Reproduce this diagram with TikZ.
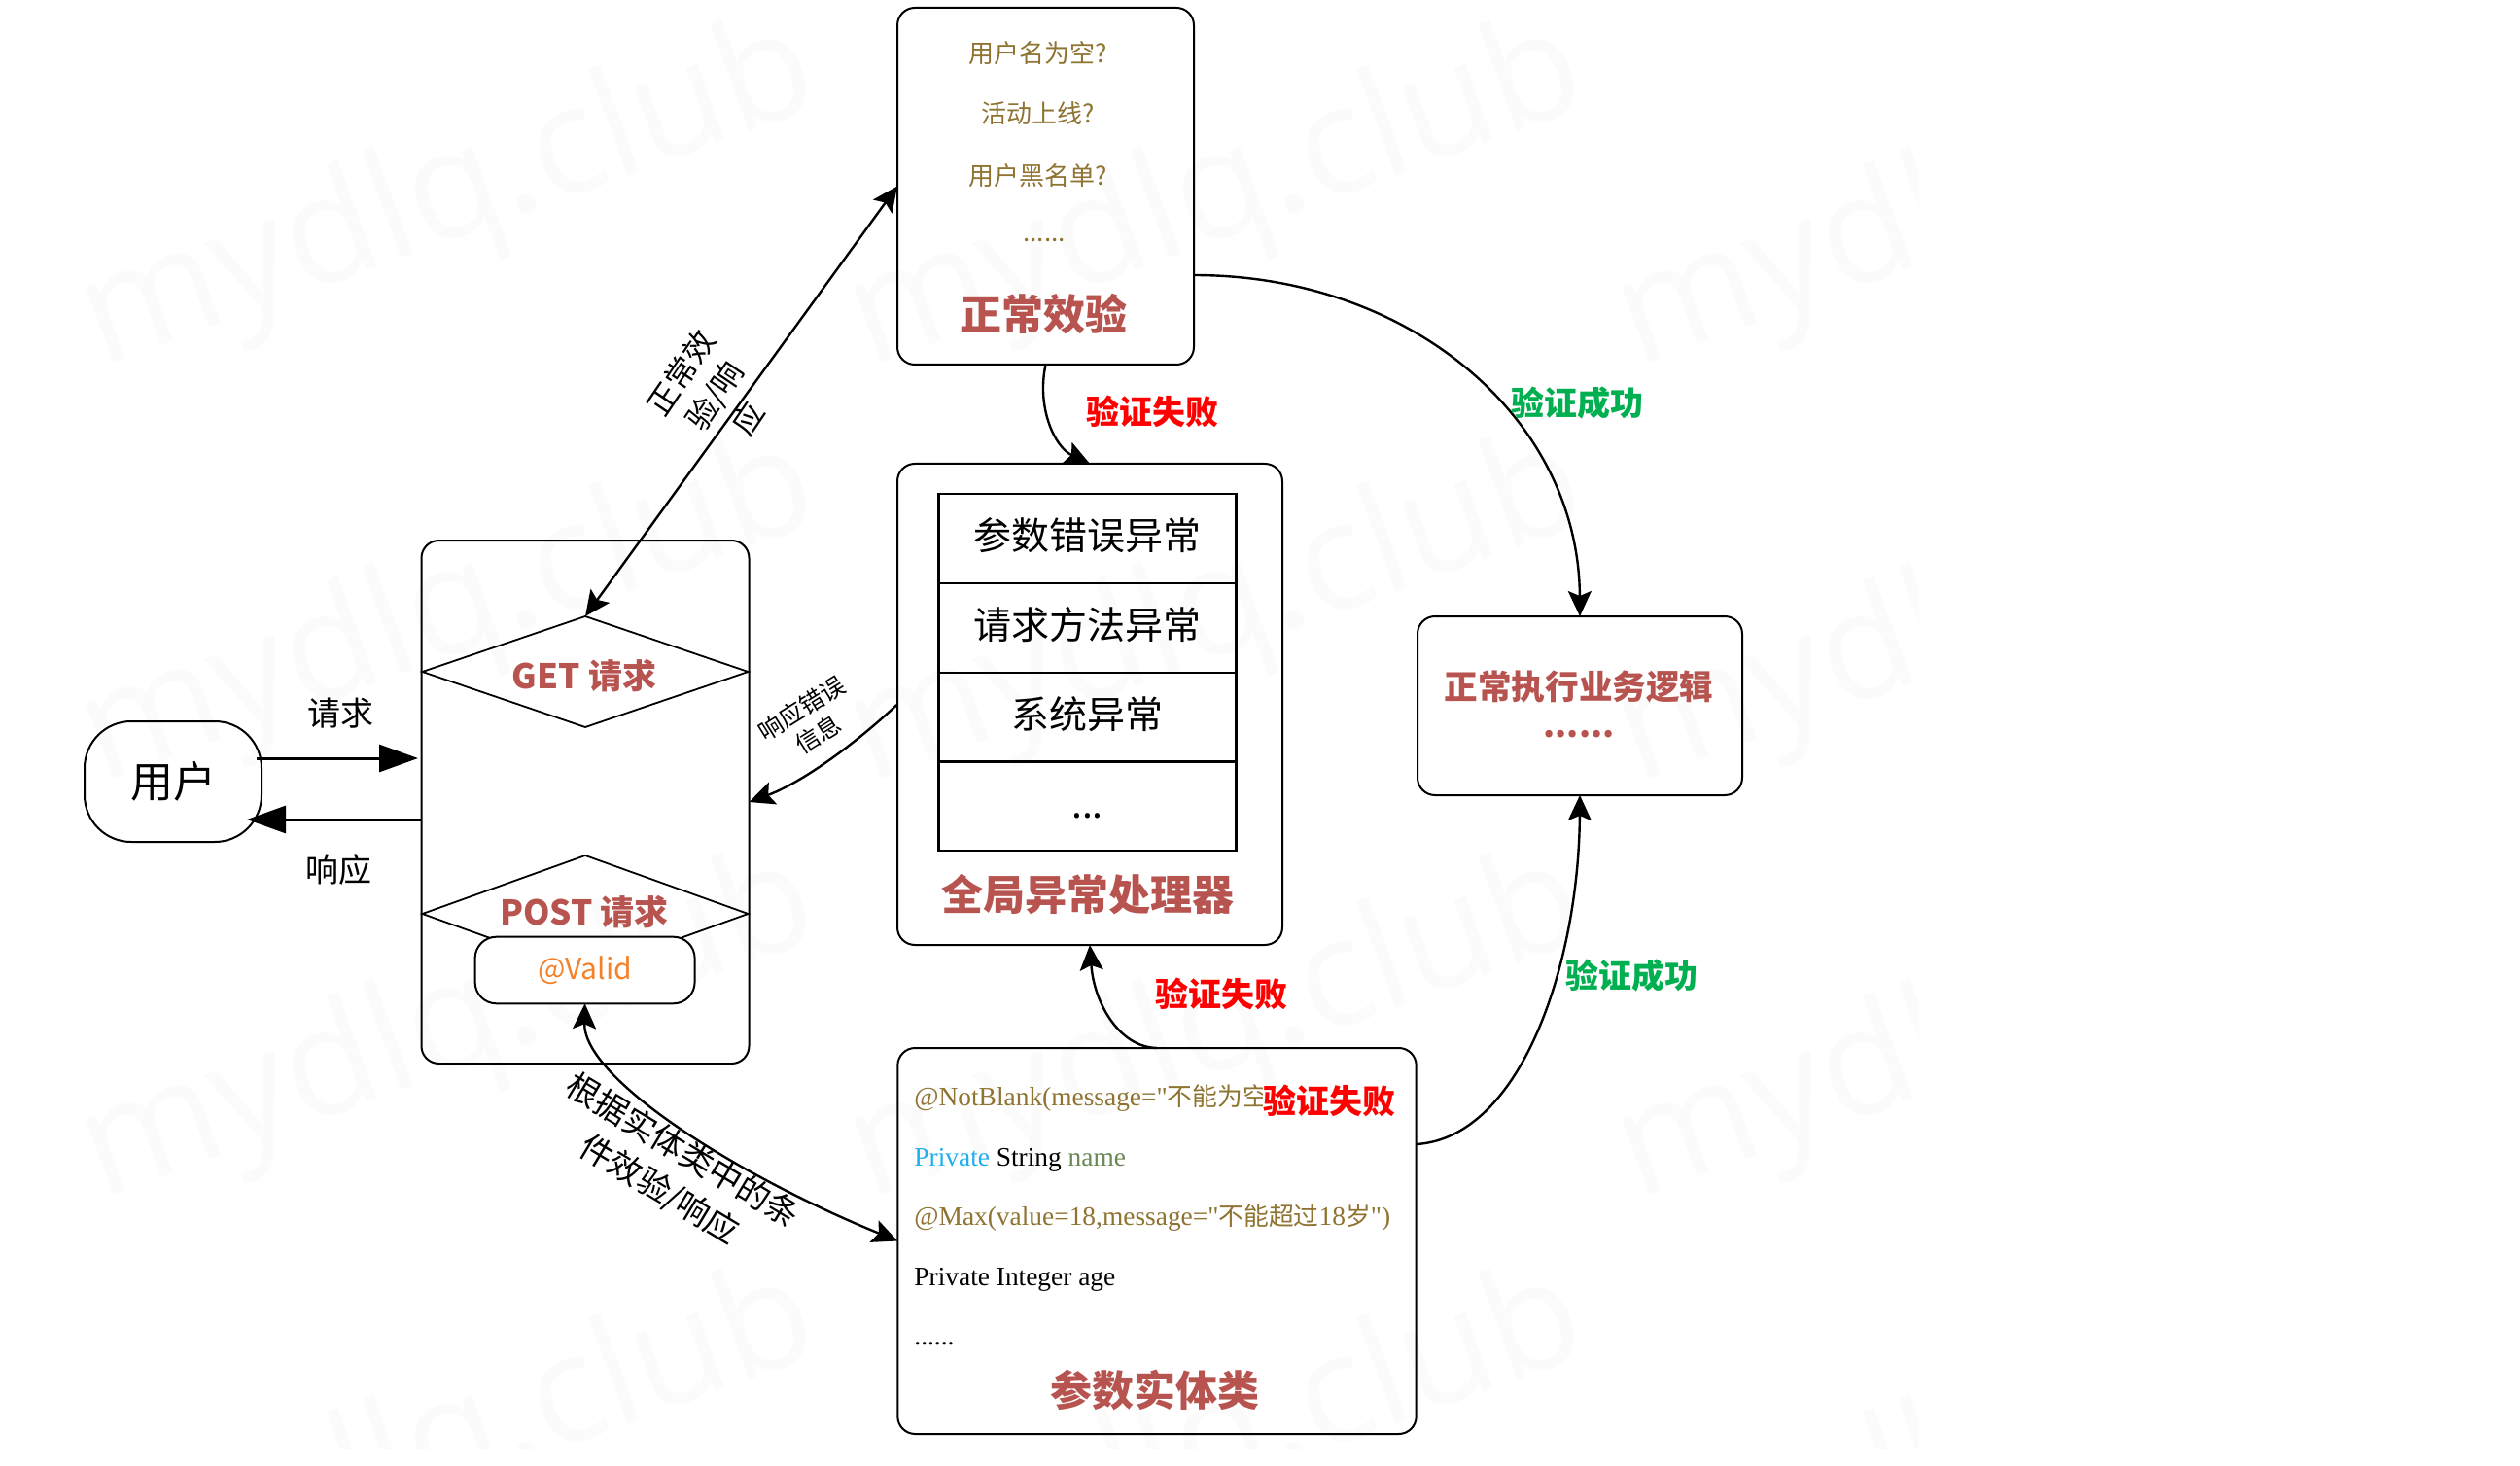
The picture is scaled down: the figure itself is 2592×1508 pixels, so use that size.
\documentclass[tikz,border=0pt]{standalone}
\usepackage{fontspec}
\usepackage[usenames]{xcolor}
\usetikzlibrary{arrows.meta,positioning,shapes.geometric}
\setmainfont{Noto Sans CJK SC}
\newfontfamily\codefont{Liberation Serif}
\newfontfamily\markfont{Open Sans}
\newcommand\cellstrut{\rule[-6pt]{0pt}{23.6pt}}
\newcommand\codecjk{\fontsize{12.9}{16}\selectfont\normalfont}

\begin{document}
\begin{tikzpicture}[x=0.5pt,y=-0.5pt,
  roundbox/.style={draw=black,line width=1pt,rectangle,rounded corners=9pt,inner sep=0pt,outer sep=0pt},
  decision/.style={draw=black,line width=0.9pt,diamond,shape aspect=2.95,inner sep=0pt,outer sep=0pt},
  decisiontext/.style={text=titleColor,inner sep=0pt,font=\fontsize{17.5}{20}\selectfont\bfseries},
  cell/.style={draw=black,line width=1.1pt,rectangle,minimum width=153pt,minimum height=45.9pt,inner sep=0pt,outer sep=0pt,font=\fontsize{19.5}{24}\selectfont},
  titletext/.style={text=titleColor,inner sep=0pt,font=\fontsize{21.5}{26}\selectfont\bfseries},
  asktext/.style={text=goldColor,inner sep=0pt,font=\fontsize{13}{16}\selectfont},
  codetext/.style={anchor=west,inner sep=0pt,font=\fontsize{13.7}{16}\selectfont\codefont},
  failtext/.style={text=failColor,inner sep=0pt,font=\fontsize{17}{20}\selectfont\bfseries},
  oktext/.style={text=okColor,inner sep=0pt,font=\fontsize{17}{20}\selectfont\bfseries},
  edgetext/.style={inner sep=0pt,align=center,font=\fontsize{17}{23}\selectfont},
  link/.style={draw=black,line width=1.2pt,-{Stealth[length=13pt,width=12pt,inset=2.5pt]}},
  wide link/.style={draw=black,line width=1.5pt,-{Triangle[length=20pt,width=14pt]}},
  both link/.style={draw=black,line width=1.2pt,{Stealth[length=13pt,width=12pt,inset=2.5pt]}-{Stealth[length=13pt,width=12pt,inset=2.5pt]}},
  watermark/.style={text=markColor,inner sep=0pt,rotate=20,font=\fontsize{77}{85}\selectfont\markfont}]
\definecolor{fillColor}{RGB}{255,255,255}
\definecolor{markColor}{RGB}{251,251,251}
\definecolor{titleColor}{RGB}{184,84,80}
\definecolor{goldColor}{RGB}{142,115,49}
\definecolor{failColor}{RGB}{255,0,0}
\definecolor{okColor}{RGB}{0,176,80}
\definecolor{validColor}{RGB}{245,130,40}
\definecolor{blueColor}{RGB}{30,174,238}
\definecolor{nameColor}{RGB}{105,135,85}
\path[use as bounding box,fill=fillColor] (0,0) rectangle (2592,1508);

\begin{scope}
\path[clip] (0,0) rectangle (1973,1490);
\foreach \col in {0,1,2} {
  \foreach \row in {0,1,2,3} {
    \node[watermark] (mark\col\row) at (462+790*\col,205+428*\row) {mydlq.club};
  }
}
\end{scope}

\node[roundbox,minimum width=91pt,minimum height=62pt,rounded corners=24pt,font=\fontsize{22}{26}\selectfont] (userbox) at (178,804) {用户};
\node[roundbox,minimum width=168.5pt,minimum height=269pt] (frontbox) at (602,825) {};
\node[decision,minimum width=167.5pt,minimum height=57pt] (getdia) at (602,691) {};
\node[decisiontext] (gettitle) at (601,695) {GET 请求};
\node[decision,minimum width=167.5pt,minimum height=60pt] (postdia) at (602,940) {};
\node[decisiontext] (posttitle) at (601,938) {POST 请求};
\node[roundbox,fill=fillColor,minimum width=113pt,minimum height=34.3pt,rounded corners=11pt,text=validColor,font=\fontsize{15}{18}\selectfont] (validbox) at (601.6,998) {@Valid};

\node[roundbox,minimum width=152.5pt,minimum height=183.5pt] (checkbox) at (1075.5,191.5) {};
\node[asktext] (askname) at (1068,55) {用户名为空?};
\node[asktext] (askline) at (1068,117) {活动上线?};
\node[asktext] (askblack) at (1068,181) {用户黑名单?};
\node[asktext] (askmore) at (1074,247) {......};
\node[titletext] (checktitle) at (1073,323) {正常效验};

\node[roundbox,minimum width=198pt,minimum height=247.5pt] (errorbox) at (1121,724.5) {};
\node[cell] (cellparam) at (1118.5,554) {\cellstrut 参数错误异常};
\node[cell,below=0pt of cellparam] (cellmethod) {\cellstrut 请求方法异常};
\node[cell,below=0pt of cellmethod] (cellsystem) {\cellstrut 系统异常};
\node[cell,below=0pt of cellsystem] (cellmore) {\cellstrut ...};
\node[titletext] (errortitle) at (1119,920) {全局异常处理器};

\node[roundbox,minimum width=167pt,minimum height=92pt] (bizbox) at (1625,726) {};
\node[titletext,font=\fontsize{17.3}{20}\selectfont\bfseries] (biztitle) at (1624,706) {正常执行业务逻辑};
\node[titletext,font=\fontsize{17.3}{20}\selectfont\bfseries] (bizmore) at (1624,755) {......};

\node[roundbox,minimum width=266.7pt,minimum height=198.5pt] (entitybox) at (1190,1276.5) {};
\node[codetext,text=goldColor] (codeblank) at (940,1130) {@NotBlank(message="{\codecjk 不能为空}};
\node[codetext] (codename) at (940,1193) {{\color{blueColor}Private} String {\color{nameColor}name}};
\node[codetext,text=goldColor] (codemax) at (940,1253) {@Max(value=18,message="{\codecjk 不能超过}18{\codecjk 岁}")};
\node[codetext] (codeage) at (940,1316) {Private Integer age};
\node[codetext] (codemore) at (940,1382) {......};
\node[titletext] (entitytitle) at (1188,1430) {参数实体类};

\coordinate (reqstart) at (264,780);
\coordinate (reqend) at (430,780);
\coordinate (respstart) at (433,843);
\coordinate (respend) at (254,843);
\coordinate (checkout) at (1228,283);
\coordinate (entityout) at (1457,1177);

\path[wide link] (reqstart) -- (reqend);
\path[wide link] (respstart) -- (respend);
\path[both link] (getdia.north) -- (checkbox.west);
\path[both link] (validbox.south) .. controls (600,1110) and (760,1210) .. (entitybox.west);
\path[link] (errorbox.west) .. controls (880,765) and (825,805) .. (frontbox.east);
\path[link] (checkbox.south) .. controls (1066,420) and (1085,460) .. (errorbox.north);
\path[link] (entitybox.north) .. controls (1150,1077) and (1125,1030) .. (errorbox.south);
\path[link] (checkout) .. controls (1450,283) and (1624,430) .. (bizbox.north);
\path[link] (entityout) .. controls (1565,1170) and (1624,990) .. (bizbox.south);

\node[inner sep=0pt,font=\fontsize{17}{20}\selectfont] (reqtext) at (350,734) {请求};
\node[inner sep=0pt,font=\fontsize{17}{20}\selectfont] (resptext) at (348,895) {响应};
\node[edgetext,font=\fontsize{16}{21}\selectfont,rotate=56] (gettext) at (735,407) {正常效\\验/响\\应};
\node[edgetext,font=\fontsize{12.5}{16}\selectfont,rotate=32] (errortext) at (833,742) {响应错误\\信息};
\node[edgetext,rotate=-31] (posttext) at (690,1204) {根据实体类中的条\\件效验/响应};
\node[failtext] (failcheck) at (1185,423) {验证失败};
\node[failtext] (failentity) at (1256,1022) {验证失败};
\node[failtext,fill=fillColor] (failcode) at (1367,1132) {验证失败};
\node[oktext] (okcheck) at (1622,415) {验证成功};
\node[oktext] (okentity) at (1678,1004) {验证成功};
\end{tikzpicture}
\end{document}
